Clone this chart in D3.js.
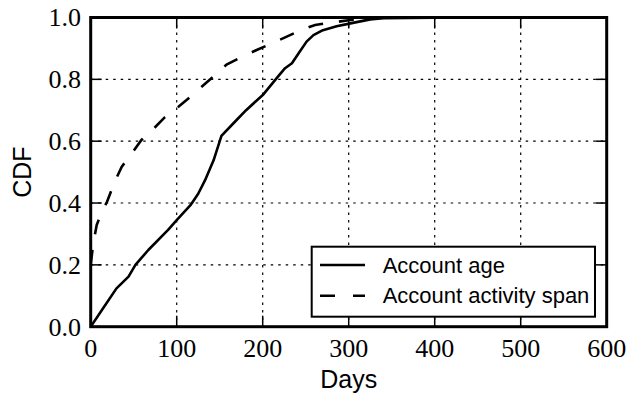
<!DOCTYPE html>
<html>
<head>
<meta charset="utf-8">
<script src="https://cdn.jsdelivr.net/npm/d3@7"></script>
<style>
  html, body { margin: 0; padding: 0; background: #fff; }
  svg { display: block; }
  .num { font-family: "Liberation Serif", "Times New Roman", "DejaVu Serif", serif; font-size: 26px; }
  .lab { font-family: "Liberation Sans", Arial, sans-serif; }
</style>
</head>
<body>
<svg id="chart" width="628" height="398"></svg>
<script>
// Account age CDF (days, cumulative fraction)
const ageDays = [0, 15, 30, 44, 52, 67, 90, 100, 116, 125, 133, 143, 152, 166, 181, 201, 216, 226, 234, 242, 251, 259, 270, 286, 302, 325, 340, 400, 500, 600];
const ageCdf  = [0, 0.062, 0.124, 0.162, 0.2, 0.248, 0.313, 0.345, 0.393, 0.43, 0.474, 0.539, 0.617, 0.658, 0.701, 0.752, 0.803, 0.836, 0.852, 0.885, 0.922, 0.943, 0.959, 0.972, 0.981, 0.994, 0.998, 0.999, 1.0, 1.0];

// Account activity span CDF
const spanDays = [0, 3, 7, 13, 19, 28, 36, 48, 59, 73, 86, 102, 116, 129, 143, 158, 176, 193, 211, 228, 245, 261, 282, 302, 325, 350, 600];
const spanCdf  = [0.2, 0.27, 0.329, 0.372, 0.404, 0.469, 0.517, 0.561, 0.604, 0.64, 0.677, 0.711, 0.744, 0.776, 0.81, 0.848, 0.873, 0.895, 0.917, 0.938, 0.96, 0.976, 0.984, 0.992, 0.998, 1.0, 1.0];

const xTicks = [0, 100, 200, 300, 400, 500, 600];
const yTicks = [0.0, 0.2, 0.4, 0.6, 0.8, 1.0];

const seriesNames = ["Account age", "Account activity span"];

const svg = d3.select("#chart");
const pLeft = 90.7, pRight = 606.7, pTop = 17.5, pBottom = 326.7;

const x = d3.scaleLinear().domain([0, 600]).range([pLeft, pRight]);
const y = d3.scaleLinear().domain([0, 1]).range([pBottom, pTop]);

svg.append("defs").append("clipPath").attr("id", "plotClip")
  .append("rect").attr("x", pLeft).attr("y", pTop)
  .attr("width", pRight - pLeft).attr("height", pBottom - pTop);

// dotted grid
const grid = svg.append("g");
grid.selectAll("line.gx").data(xTicks.slice(1, -1)).join("line")
  .attr("x1", d => x(d)).attr("x2", d => x(d))
  .attr("y1", pTop).attr("y2", pBottom)
  .attr("stroke", "#000").attr("stroke-width", 1.2)
  .attr("stroke-dasharray", "2.5,5");
grid.selectAll("line.gy").data(yTicks.slice(1, -1)).join("line")
  .attr("y1", d => y(d)).attr("y2", d => y(d))
  .attr("x1", pLeft).attr("x2", pRight)
  .attr("stroke", "#000").attr("stroke-width", 1.2)
  .attr("stroke-dasharray", "2.5,5");

// inward ticks on all four sides
const tickLen = 11;
const ticks = svg.append("g").attr("stroke", "#000").attr("stroke-width", 1.5);
xTicks.forEach(t => {
  ticks.append("line").attr("x1", x(t)).attr("x2", x(t)).attr("y1", pBottom).attr("y2", pBottom - tickLen);
  ticks.append("line").attr("x1", x(t)).attr("x2", x(t)).attr("y1", pTop).attr("y2", pTop + tickLen);
});
yTicks.forEach(t => {
  ticks.append("line").attr("y1", y(t)).attr("y2", y(t)).attr("x1", pLeft).attr("x2", pLeft + tickLen);
  ticks.append("line").attr("y1", y(t)).attr("y2", y(t)).attr("x1", pRight).attr("x2", pRight - tickLen);
});

// tick labels
svg.append("g").selectAll("text").data(xTicks).join("text")
  .attr("class", "num")
  .attr("x", d => x(d)).attr("y", 357)
  .attr("text-anchor", "middle")
  .text(d => d3.format("d")(d));
svg.append("g").selectAll("text").data(yTicks).join("text")
  .attr("class", "num")
  .attr("x", 81).attr("y", d => y(d))
  .attr("dy", "0.34em")
  .attr("text-anchor", "end")
  .text(d => d3.format(".1f")(d));

// curves
const line = d3.line().x(d => x(d[0])).y(d => y(d[1]));
const agePts = ageDays.map((d, i) => [d, ageCdf[i]]);
const spanPts = spanDays.map((d, i) => [d, spanCdf[i]]);

const plot = svg.append("g").attr("clip-path", "url(#plotClip)");
plot.append("path").datum(spanPts).attr("d", line)
  .attr("fill", "none").attr("stroke", "#000").attr("stroke-width", 2.6)
  .attr("stroke-dasharray", "15,16");
plot.append("path").datum(agePts).attr("d", line)
  .attr("fill", "none").attr("stroke", "#000").attr("stroke-width", 2.6)
  .attr("stroke-linejoin", "round");

// axes frame
svg.append("rect").attr("x", pLeft).attr("y", pTop)
  .attr("width", pRight - pLeft).attr("height", pBottom - pTop)
  .attr("fill", "none").attr("stroke", "#000").attr("stroke-width", 3);

// axis titles
svg.append("text").attr("class", "lab")
  .attr("x", (pLeft + pRight) / 2).attr("y", 388)
  .attr("text-anchor", "middle").attr("font-size", 25)
  .text("Days");
svg.append("text").attr("class", "lab")
  .attr("transform", `translate(31,${(pTop + pBottom) / 2}) rotate(-90)`)
  .attr("text-anchor", "middle").attr("font-size", 25)
  .text("CDF");

// legend
const lg = svg.append("g");
lg.append("rect").attr("x", 311.7).attr("y", 246.7).attr("width", 283.3).attr("height", 70)
  .attr("fill", "#fff").attr("stroke", "#000").attr("stroke-width", 2);
const rows = [265, 295.7];
seriesNames.forEach((name, i) => {
  lg.append("line").attr("x1", 320).attr("x2", 365).attr("y1", rows[i]).attr("y2", rows[i])
    .attr("stroke", "#000").attr("stroke-width", 2.6)
    .attr("stroke-dasharray", i === 1 ? "15,18" : null);
  lg.append("text").attr("class", "lab")
    .attr("x", 382.7).attr("y", rows[i]).attr("dy", "0.35em")
    .attr("font-size", 22)
    .text(name);
});
</script>
</body>
</html>
